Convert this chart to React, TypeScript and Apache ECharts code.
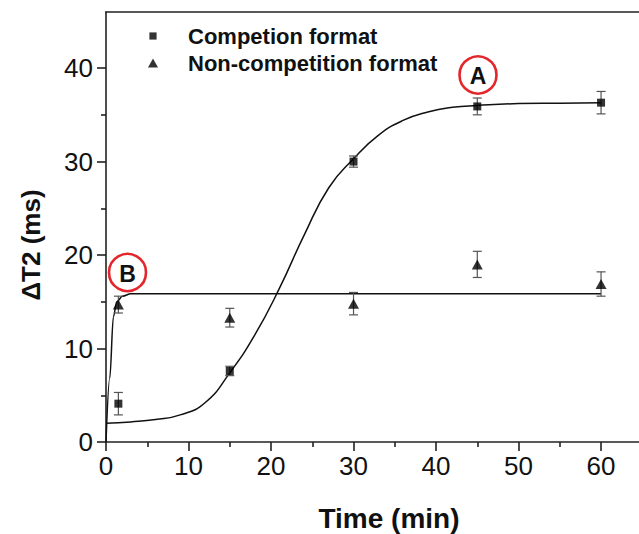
import React, { useEffect, useRef } from 'react';
import * as echarts from 'echarts';

// measured points (time in min)
const timePoints = [1.5, 15, 30, 45, 60];
const competitionValues = [4.1, 7.6, 30.0, 35.9, 36.3];
const competitionErrors = [1.2, 0.5, 0.6, 0.9, 1.2];
const nonCompetitionValues = [14.7, 13.3, 14.8, 19.0, 16.9];
const nonCompetitionErrors = [0.9, 1.0, 1.2, 1.4, 1.3];

// fitted curves
const fitATimes = [0, 3, 6, 9, 12, 15, 18, 21, 24, 27, 30, 33, 36, 39, 42, 45, 50, 55, 60];
const fitAValues = [2.0, 2.15, 2.4, 2.9, 4.2, 7.4, 11.4, 16.4, 22.1, 27.2, 30.3, 32.8, 34.4, 35.3, 35.8, 36.0, 36.2, 36.25, 36.3];
const fitBTimes = [0, 0.45, 0.9, 1.3, 2.0, 3.0, 10, 30, 60];
const fitBValues = [0, 6.8, 13.4, 15.0, 15.6, 15.85, 15.85, 15.85, 15.85];

const xMajorTicks = [0, 10, 20, 30, 40, 50, 60];
const xMinorTicks = [5, 15, 25, 35, 45, 55];
const yMajorTicks = [0, 10, 20, 30, 40];
const yMinorTicks = [5, 15, 25, 35];

const legendNames = ['Competion format', 'Non-competition format'];

const FONT = "'Liberation Sans', Arial, Helvetica, sans-serif";
const AXIS_COLOR = '#222';

export default function App() {
  const ref = useRef<HTMLDivElement>(null);
  useEffect(() => {
    const chart = echarts.init(ref.current as HTMLDivElement, null, { renderer: 'svg' });
    const comp = timePoints.map((t, i) => [t, competitionValues[i]]);
    const nonComp = timePoints.map((t, i) => [t, nonCompetitionValues[i]]);
    const compErr = timePoints.map((t, i) => [t, competitionValues[i], competitionErrors[i]]);
    const nonCompErr = timePoints.map((t, i) => [t, nonCompetitionValues[i], nonCompetitionErrors[i]]);
    const fitA = fitATimes.map((t, i) => [t, fitAValues[i]]);
    const fitB = fitBTimes.map((t, i) => [t, fitBValues[i]]);

    const errRender = (params: any, api: any) => {
      const x = api.value(0);
      const y = api.value(1);
      const e = api.value(2);
      const top = api.coord([x, y + e]);
      const bot = api.coord([x, y - e]);
      const hw = 4.5;
      const st = { stroke: '#555', lineWidth: 1.2 };
      return {
        type: 'group',
        children: [
          { type: 'line', shape: { x1: top[0], y1: top[1], x2: bot[0], y2: bot[1] }, style: st },
          { type: 'line', shape: { x1: top[0] - hw, y1: top[1], x2: top[0] + hw, y2: top[1] }, style: st },
          { type: 'line', shape: { x1: bot[0] - hw, y1: bot[1], x2: bot[0] + hw, y2: bot[1] }, style: st },
        ],
      };
    };

    const lineStyle = { color: AXIS_COLOR, width: 1.6 };
    const xBase = { type: 'value', min: 0, max: 64.6, splitLine: { show: false } };
    const yBase = { type: 'value', min: 0, max: 46, splitLine: { show: false } };

    chart.setOption({
      animation: false,
      backgroundColor: '#fff',
      grid: { left: 106, right: 0, top: 12, bottom: 92 },
      xAxis: [
        {
          ...xBase,
          position: 'bottom',
          interval: 10,
          axisLine: { show: true, onZero: false, lineStyle },
          axisTick: { show: true, inside: false, length: 9, customValues: xMajorTicks, lineStyle },
          axisLabel: { customValues: xMajorTicks, margin: 11, fontSize: 26, color: '#111', fontFamily: FONT },
        },
        {
          ...xBase,
          position: 'bottom',
          axisLine: { show: false },
          axisTick: { show: true, inside: false, length: 5, customValues: xMinorTicks, lineStyle },
          axisLabel: { show: false },
        },
        {
          ...xBase,
          position: 'top',
          axisLine: { show: true, onZero: false, lineStyle },
          axisTick: { show: false },
          axisLabel: { show: false },
        },
      ],
      yAxis: [
        {
          ...yBase,
          position: 'left',
          interval: 10,
          axisLine: { show: true, onZero: false, lineStyle },
          axisTick: { show: true, inside: false, length: 9, customValues: yMajorTicks, lineStyle },
          axisLabel: { customValues: yMajorTicks, margin: 13, fontSize: 26, color: '#111', fontFamily: FONT },
        },
        {
          ...yBase,
          position: 'left',
          axisLine: { show: false },
          axisTick: { show: true, inside: false, length: 5, customValues: yMinorTicks, lineStyle },
          axisLabel: { show: false },
        },
      ],
      legend: {
        data: [
          { name: legendNames[0], icon: 'path://M0,0M10,10M1,1H9V9H1Z' },
          { name: legendNames[1], icon: 'path://M5,0L10,9H0Z' },
        ],
        orient: 'vertical',
        left: 148,
        top: 25,
        padding: 0,
        itemWidth: 60,
        itemHeight: 9,
        itemGap: 5,
        selectedMode: false,
        textStyle: { fontSize: 22, fontWeight: 'bold', color: '#111', fontFamily: FONT },
      },
      series: [
        {
          name: 'fitA', type: 'line', data: fitA, xAxisIndex: 0, yAxisIndex: 0,
          showSymbol: false, smooth: 0.5, silent: true, z: 2,
          lineStyle: { color: '#111', width: 1.5 },
        },
        {
          name: 'fitB', type: 'line', data: fitB, xAxisIndex: 0, yAxisIndex: 0,
          showSymbol: false, smooth: 0.35, smoothMonotone: 'x', silent: true, z: 2,
          lineStyle: { color: '#111', width: 1.5 },
        },
        { name: 'errA', type: 'custom', data: compErr, renderItem: errRender, xAxisIndex: 0, yAxisIndex: 0, z: 3, silent: true },
        { name: 'errB', type: 'custom', data: nonCompErr, renderItem: errRender, xAxisIndex: 0, yAxisIndex: 0, z: 3, silent: true },
        {
          name: legendNames[0], type: 'scatter', data: comp, xAxisIndex: 0, yAxisIndex: 0,
          symbol: 'rect', symbolSize: 8, itemStyle: { color: '#000' }, z: 5,
        },
        {
          name: legendNames[1], type: 'scatter', data: nonComp, xAxisIndex: 0, yAxisIndex: 0,
          symbol: 'triangle', symbolSize: [11, 10], itemStyle: { color: '#000' }, z: 5,
        },
      ],
      graphic: [
        { type: 'circle', shape: { cx: 478, cy: 75, r: 18.5 }, style: { fill: 'none', stroke: '#e3262b', lineWidth: 2.6 } },
        { type: 'text', x: 478, y: 76, style: { text: 'A', font: `bold 23px ${FONT}`, fill: '#111', align: 'center', verticalAlign: 'middle' } },
        { type: 'circle', shape: { cx: 127.5, cy: 272.5, r: 18.5 }, style: { fill: 'none', stroke: '#e3262b', lineWidth: 2.6 } },
        { type: 'text', x: 127.5, y: 273.5, style: { text: 'B', font: `bold 23px ${FONT}`, fill: '#111', align: 'center', verticalAlign: 'middle' } },
        { type: 'text', x: 31, y: 245, rotation: Math.PI / 2, style: { text: 'ΔT2 (ms)', font: `bold 26px ${FONT}`, fill: '#111', align: 'center', verticalAlign: 'middle' } },
        { type: 'text', x: 389, y: 518, style: { text: 'Time (min)', font: `bold 28px ${FONT}`, fill: '#111', align: 'center', verticalAlign: 'middle' } },
      ],
    });
    return () => chart.dispose();
  }, []);
  return (
    <div
      ref={ref}
      style={{ position: 'fixed', left: 0, top: 0, width: 639, height: 534, background: '#fff' }}
    />
  );
}
